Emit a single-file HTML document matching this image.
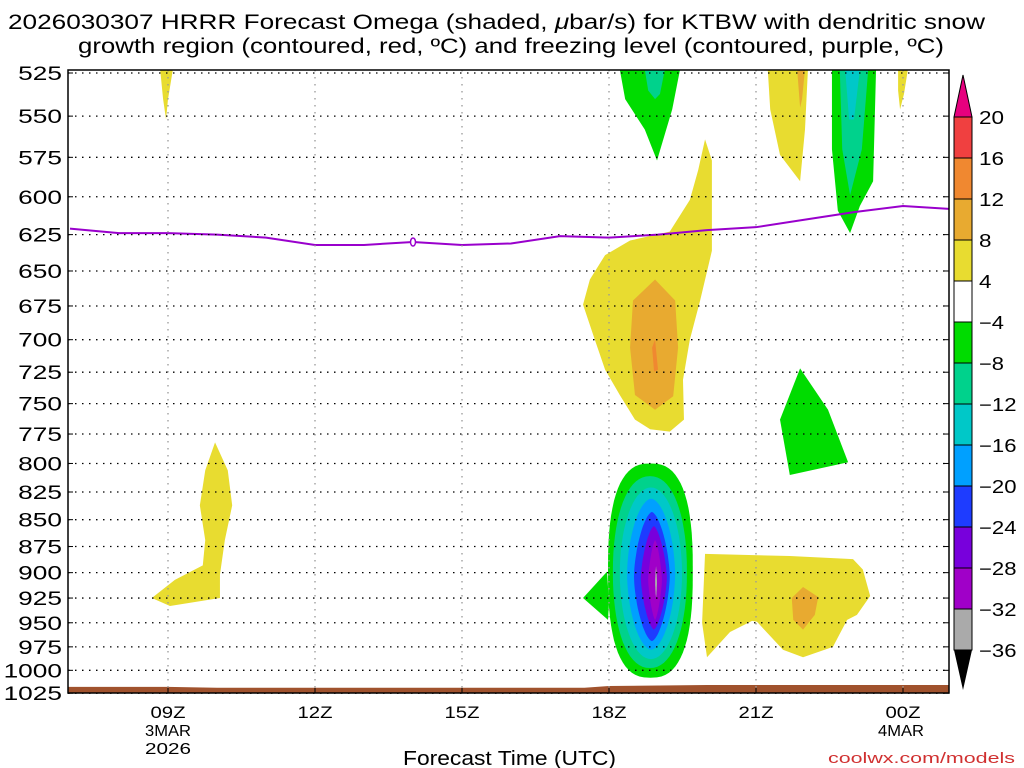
<!DOCTYPE html>
<html><head><meta charset="utf-8"><style>
body{margin:0;background:#fff;width:1024px;height:768px;overflow:hidden}
svg{display:block;font-family:"Liberation Sans",sans-serif}
</style></head><body>
<svg id="c" width="1024" height="768"></svg>
<script>
const levels=[525,550,575,600,625,650,675,700,725,750,775,800,825,850,875,900,925,950,975,1000,1025];
const hourTicks=[9,12,15,18,21,24];
const hourLabels=["09Z","12Z","15Z","18Z","21Z","00Z"];
const cbLevels=[20,16,12,8,4,-4,-8,-12,-16,-20,-24,-28,-32,-36];
const cbColors=["#f04040","#f08830","#e8aa30","#e8dc30","#ffffff","#00dc00","#00d28c","#00c8c8","#00a0ff","#1e3cff","#7800dc","#a000c8","#aaaaaa"];
const frzHours=[7,8,9,10,11,12,13,14,15,16,17,18,19,20,21,22,23,24,25];
const frzLevels=[621,624,624,625,627,632,632,630,632,631,626,627,625,622,620,615,610,606,608];
// shaded polygons: [colorIndex, [[hour,pressure],...]]
const polys=[
 [3,[[8.84,523],[9.10,523],[9.0,540],[8.96,552],[8.9,540]]],
 [3,[[9.76,806],[9.96,782],[10.22,806],[10.31,837],[10.16,869],[10.06,902],[10.06,925],[9.04,933],[8.67,925],[9.14,907],[9.71,893],[9.76,869],[9.65,837]]],
 [5,[[18.22,523],[19.45,523],[19.29,546],[18.98,577],[18.73,558],[18.33,540]]],
 [6,[[18.73,523],[19.14,523],[19.04,537],[18.94,540],[18.80,535]]],
 [3,[[19.96,564],[20.10,577],[20.10,636],[19.86,671],[19.65,700],[19.51,731],[19.53,763],[19.24,773],[18.84,771],[18.53,763],[18.22,743],[17.92,723],[17.71,700],[17.47,674],[17.61,656],[17.92,639],[18.43,629],[19.24,623],[19.65,602],[19.82,583]]],
 [2,[[18.94,656],[19.35,671],[19.41,706],[19.31,744],[18.94,755],[18.53,743],[18.43,706],[18.49,671]]],
 [1,[[18.94,700],[19.0,723],[18.92,724.5],[18.88,706]]],
 [5,[[17.47,925],[17.96,899],[18.0,930],[17.98,947]]],
 [3,[[19.96,882],[21.69,884],[22.98,887],[23.18,897],[23.33,923],[23.06,942],[22.86,947],[22.57,975],[21.96,986],[21.55,978],[21.02,949],[20.92,948],[20.47,959.5],[20.0,986],[19.90,950]]],
 [2,[[21.96,914],[22.27,924],[22.20,942],[21.96,957],[21.76,947],[21.73,925]]],
 [5,[[21.90,722],[22.47,755],[22.88,799],[21.69,810],[21.49,763]]],
 [3,[[21.24,523],[22.06,523],[22.0,558],[21.90,590],[21.49,573.5],[21.29,546]]],
 [2,[[21.84,523],[22.0,523],[21.94,540],[21.90,545]]],
 [5,[[22.55,523],[23.45,523],[23.39,590],[23.12,606],[22.92,624],[22.67,609],[22.55,570]]],
 [6,[[22.71,523],[23.29,523],[23.16,570],[22.92,599],[22.76,570]]],
 [7,[[22.82,523],[23.12,523],[23.0,552],[22.9,552]]],
 [3,[[23.90,523],[24.10,523],[24.02,537],[23.94,546],[23.90,535]]]
];
// core rings: [colorIndex, topP, bottomP, leftH, rightH]
const lenses=[[5,800,1008,17.98,19.71],[6,811,997.5,18.08,19.59],[7,821,988,18.22,19.49],[8,831,978,18.37,19.35],[9,843,969,18.51,19.24],[10,856,957,18.65,19.18],[11,869,947,18.80,19.08],[12,894,925,18.94,18.98]];
const ringShape=[2.6,2.2,2.0,1.8,1.6,1.5,1.4,1.3];

const NS="http://www.w3.org/2000/svg";
const svg=document.getElementById('c');
const L=68,R=949,T=70,B=693;
const X=h=>168+(h-9)*49;
const Y=p=>73+927*Math.log(p/525);
function el(t,a,par){const e=document.createElementNS(NS,t);for(const k in a)e.setAttribute(k,a[k]);(par||svg).appendChild(e);return e;}
const defs=el('defs',{});
const cp=el('clipPath',{id:'clip'},defs);el('rect',{x:L,y:T,width:R-L,height:B-T},cp);
const g=el('g',{'clip-path':'url(#clip)'});
polys.forEach(([ci,pts],i)=>{
 const e=el('polygon',{points:pts.map(q=>X(q[0])+','+Y(q[1])).join(' '),fill:cbColors[ci]},g);
 
 
});
lenses.forEach(([ci,tp,bp,lh,rh],i)=>{
 const ty=Y(tp),by=Y(bp),lx=X(lh),rx=X(rh),cx=(lx+rx)/2,cy=(ty+by)/2,a=(rx-lx)/2,b=(by-ty)/2,n=ringShape[i];
 const pts=[];
 for(let k=0;k<72;k++){const t=k/72*2*Math.PI,c=Math.cos(t),s=Math.sin(t);
  pts.push((cx+a*Math.sign(c)*Math.pow(Math.abs(c),2/n)).toFixed(1)+','+(cy+b*Math.sign(s)*Math.pow(Math.abs(s),2/n)).toFixed(1));}
 const e=el('polygon',{points:pts.join(' '),fill:cbColors[ci]},g);
 
 
});
// terrain
const terr=el('path',{d:`M${L},${Y(1018)} L${X(9)},${Y(1018)} L${X(10)},${Y(1019)} L${X(17.5)},${Y(1019)} L${X(18)},${Y(1017)} L${X(20)},${Y(1016)} L${R},${Y(1016)} L${R},${B} L${L},${B}Z`,fill:'#a0522d'},g);


// grid
levels.forEach(p=>{const e=el('line',{x1:L,x2:R,y1:Y(p),y2:Y(p),stroke:'#000','stroke-width':1.3,'stroke-dasharray':'1.5,5.5'});
 });
hourTicks.forEach(h=>{const e=el('line',{x1:X(h),x2:X(h),y1:T,y2:B,stroke:'#999','stroke-width':1.3,'stroke-dasharray':'1.5,5.5'});
 });
// freezing line
const fl=el('polyline',{points:frzHours.map((h,i)=>X(h)+','+Y(frzLevels[i])).join(' '),fill:'none',stroke:'#9900cc','stroke-width':2},g);

const fo=el('ellipse',{cx:X(14),cy:Y(630),rx:2.5,ry:4,fill:'#fff',stroke:'#9900cc','stroke-width':1.5});

// frame
const fr=el('rect',{x:L,y:T,width:R-L,height:B-T,fill:'none',stroke:'#000','stroke-width':1.5});

function txt(x,y,s,sz,name,extra){const t=el('text',Object.assign({x:x,y:y,'font-size':sz},extra||{}));t.textContent=s;
 return t;}
levels.forEach(p=>{
 el('line',{x1:L,x2:L+5,y1:Y(p),y2:Y(p),stroke:'#000'});
 el('line',{x1:R-5,x2:R,y1:Y(p),y2:Y(p),stroke:'#000'});
 const s=String(p);
 txt(62,Y(p)+7,s,19,'y-tick-label',{'text-anchor':'end',textLength:s.length*14.6,lengthAdjust:'spacingAndGlyphs'});
});
hourTicks.forEach((h,i)=>{
 el('line',{x1:X(h),x2:X(h),y1:B-5,y2:B,stroke:'#000'});
 txt(X(h),718,hourLabels[i],17,'x-tick-label',{'text-anchor':'middle',textLength:35,lengthAdjust:'spacingAndGlyphs'});
});
txt(168,736,'3MAR',16,'date-label',{'text-anchor':'middle',textLength:46,lengthAdjust:'spacingAndGlyphs'});
txt(168,754,'2026',16,'year-label',{'text-anchor':'middle',textLength:46,lengthAdjust:'spacingAndGlyphs'});
txt(901,736,'4MAR',16,'date-label-2',{'text-anchor':'middle',textLength:46,lengthAdjust:'spacingAndGlyphs'});
txt(403,765,'Forecast Time (UTC)',20,'x-axis-title',{textLength:213,lengthAdjust:'spacingAndGlyphs'});
txt(828,763,'coolwx.com/models',15,'credit',{fill:'#d03030',textLength:187,lengthAdjust:'spacingAndGlyphs'});
const t1=txt(8,29,'',21,'title-line-1',{textLength:977,lengthAdjust:'spacingAndGlyphs'});
t1.innerHTML='2026030307 HRRR Forecast Omega (shaded, <tspan font-style="italic">μ</tspan>bar/s) for KTBW with dendritic snow';
txt(78,53,'growth region (contoured, red, ºC) and freezing level (contoured, purple, ºC)',21,'title-line-2',{textLength:866,lengthAdjust:'spacingAndGlyphs'});
// colorbar
const cx0=954,cw=18,ct=117,ch=41;
const tri=el('polygon',{points:`${cx0},${ct} ${cx0+cw},${ct} ${cx0+cw/2},75`,fill:'#e6007e',stroke:'#000'});

cbColors.forEach((c,i)=>{const r=el('rect',{x:cx0,y:ct+i*ch,width:cw,height:ch,fill:c,stroke:'#000','stroke-width':1});
 });
const tb=ct+cbColors.length*ch;
const tri2=el('polygon',{points:`${cx0},${tb} ${cx0+cw},${tb} ${cx0+cw/2},690`,fill:'#000'});

cbLevels.forEach((v,i)=>{const s=v<0?'−'+(-v):String(v);
 txt(979,ct+i*ch+7,s,18,'colorbar-label',{textLength:s.length*12.5,lengthAdjust:'spacingAndGlyphs'});});
</script>
</body></html>
